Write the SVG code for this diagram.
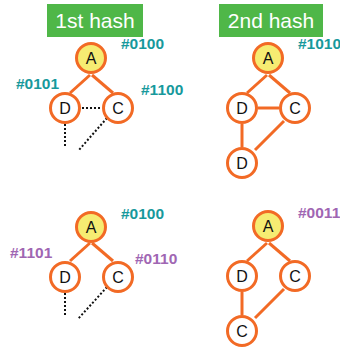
<svg xmlns="http://www.w3.org/2000/svg" width="340" height="347" viewBox="0 0 340 347">
  <style>
    .bg { fill: #ffffff; }
    .title-box { fill: #4fb748; }
    .title { font-family: "Liberation Sans", Arial, sans-serif; font-size: 21px; fill: #ffffff; text-anchor: middle; }
    .node { fill: #ffffff; stroke: #f26a25; stroke-width: 3; }
    .root { fill: #f6ec72; stroke: #f26a25; stroke-width: 3; }
    .nlabel { font-family: "Liberation Sans", Arial, sans-serif; font-size: 16px; fill: #111111; text-anchor: middle; }
    .edge { stroke: #f26a25; stroke-width: 3; fill: none; }
    .dot { stroke: #111111; stroke-width: 2; stroke-dasharray: 2 2; fill: none; }
    .teal { font-family: "Liberation Sans", Arial, sans-serif; font-size: 15.5px; font-weight: bold; fill: #17999c; }
    .purple { font-family: "Liberation Sans", Arial, sans-serif; font-size: 15.5px; font-weight: bold; fill: #a066b3; }
  </style>
  <rect class="bg" x="0" y="0" width="340" height="347"/>

  <!-- column headers -->
  <g id="header-1">
    <rect class="title-box" x="47" y="4" width="96" height="33"/>
    <text class="title" x="95" y="28">1st hash</text>
  </g>
  <g id="header-2">
    <rect class="title-box" x="219" y="4" width="104" height="33"/>
    <text class="title" x="271" y="28">2nd hash</text>
  </g>

  <!-- connectors -->
  <g id="connectors">
    <!-- top-left tree -->
    <line class="edge" x1="90" y1="75" x2="70" y2="93"/>
    <line class="edge" x1="92" y1="75" x2="113" y2="93"/>
    <line class="dot" x1="82" y1="108" x2="102" y2="108"/>
    <line class="dot" x1="65" y1="124" x2="65" y2="147"/>
    <line class="dot" x1="107" y1="118" x2="78" y2="151"/>
    <!-- top-right tree -->
    <line class="edge" x1="267" y1="75" x2="247" y2="93"/>
    <line class="edge" x1="269" y1="75" x2="290" y2="93"/>
    <line class="edge" x1="258" y1="108" x2="279" y2="108"/>
    <line class="edge" x1="242" y1="124" x2="242" y2="147"/>
    <line class="edge" x1="284" y1="121" x2="255" y2="150"/>
    <!-- bottom-left tree -->
    <line class="edge" x1="90" y1="243" x2="70" y2="261"/>
    <line class="edge" x1="92" y1="243" x2="113" y2="261"/>
    <line class="dot" x1="65" y1="293" x2="65" y2="315"/>
    <line class="dot" x1="107" y1="287" x2="78" y2="319"/>
    <!-- bottom-right tree -->
    <line class="edge" x1="267" y1="243" x2="247" y2="261"/>
    <line class="edge" x1="269" y1="243" x2="290" y2="261"/>
    <line class="edge" x1="242" y1="292" x2="242" y2="315"/>
    <line class="edge" x1="284" y1="289" x2="255" y2="318"/>
  </g>

  <!-- top-left tree nodes -->
  <g id="tl-A"><circle class="root" cx="91" cy="58" r="14.5"/><text class="nlabel" x="91" y="64">A</text></g>
  <g id="tl-D"><circle class="node" cx="65" cy="108" r="14.5"/><text class="nlabel" x="65" y="114">D</text></g>
  <g id="tl-C"><circle class="node" cx="118" cy="108" r="14.5"/><text class="nlabel" x="118" y="114">C</text></g>
  <text class="teal" x="121" y="49">#0100</text>
  <text class="teal" x="16" y="89">#0101</text>
  <text class="teal" x="141" y="95">#1100</text>

  <!-- top-right tree nodes -->
  <g id="tr-A"><circle class="root" cx="268" cy="58" r="14.5"/><text class="nlabel" x="268" y="64">A</text></g>
  <g id="tr-D"><circle class="node" cx="242" cy="108" r="14.5"/><text class="nlabel" x="242" y="114">D</text></g>
  <g id="tr-C"><circle class="node" cx="295" cy="108" r="14.5"/><text class="nlabel" x="295" y="114">C</text></g>
  <g id="tr-D2"><circle class="node" cx="242" cy="163" r="14.5"/><text class="nlabel" x="242" y="169">D</text></g>
  <text class="teal" x="298" y="49">#1010</text>

  <!-- bottom-left tree nodes -->
  <g id="bl-A"><circle class="root" cx="91" cy="227" r="14.5"/><text class="nlabel" x="91" y="233">A</text></g>
  <g id="bl-D"><circle class="node" cx="65" cy="277" r="14.5"/><text class="nlabel" x="65" y="283">D</text></g>
  <g id="bl-C"><circle class="node" cx="118" cy="277" r="14.5"/><text class="nlabel" x="118" y="283">C</text></g>
  <text class="teal" x="121" y="219">#0100</text>
  <text class="purple" x="10" y="258">#1101</text>
  <text class="purple" x="135" y="264">#0110</text>

  <!-- bottom-right tree nodes -->
  <g id="br-A"><circle class="root" cx="268" cy="226" r="14.5"/><text class="nlabel" x="268" y="232">A</text></g>
  <g id="br-D"><circle class="node" cx="242" cy="276" r="14.5"/><text class="nlabel" x="242" y="282">D</text></g>
  <g id="br-C"><circle class="node" cx="295" cy="276" r="14.5"/><text class="nlabel" x="295" y="282">C</text></g>
  <g id="br-C2"><circle class="node" cx="242" cy="331" r="14.5"/><text class="nlabel" x="242" y="337">C</text></g>
  <text class="purple" x="298" y="218">#0011</text>
</svg>
